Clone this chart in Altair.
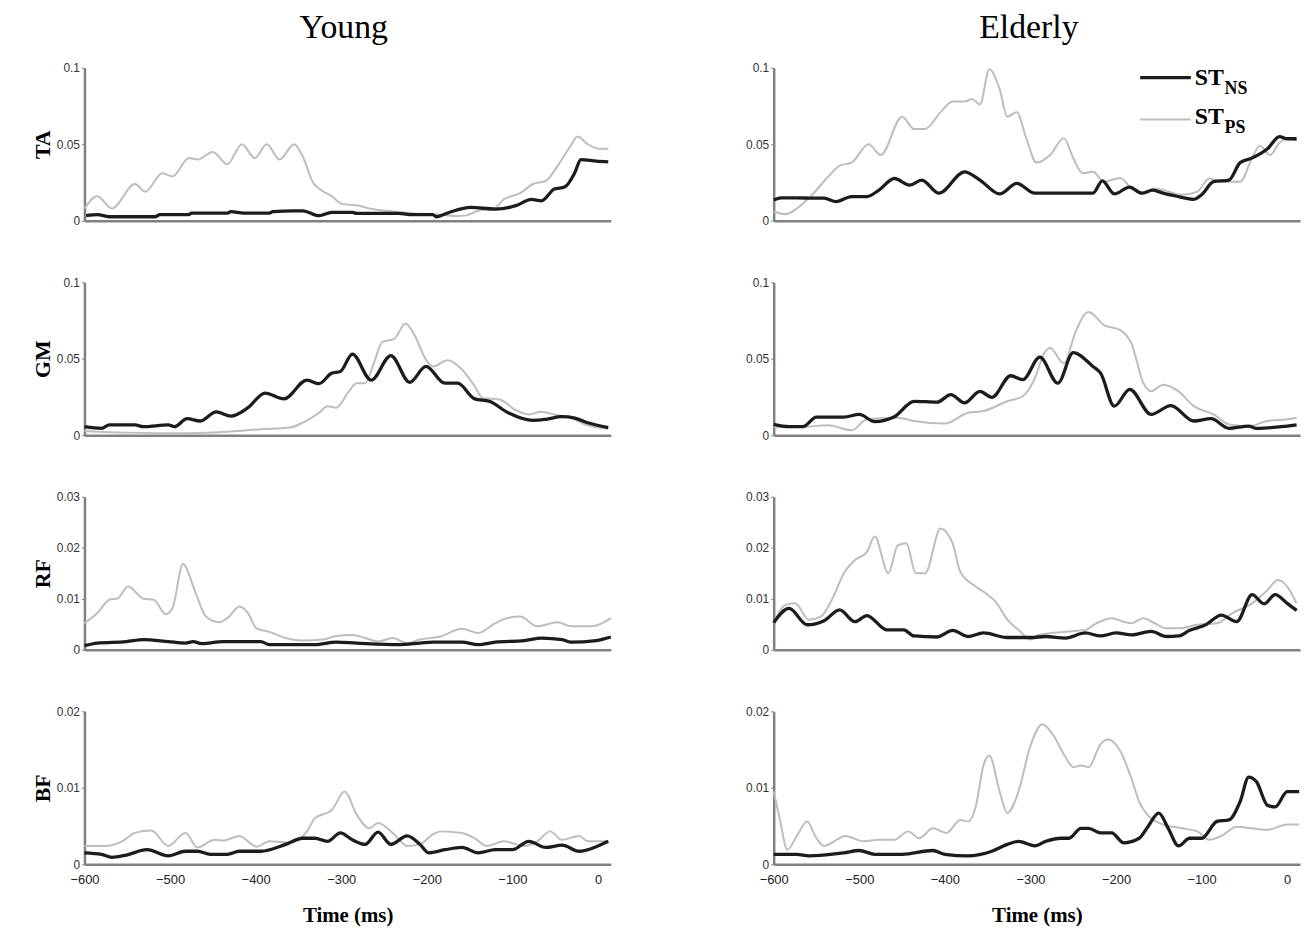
import altair as alt
import pandas as pd

# ---------------- data (time in ms, normalised EMG) ----------------
# Young TA
YTA_PS_T = [-600, -585, -568, -541, -529, -509, -497, -478, -468, -450, -433, -416, -401, -387, -372, -355, -345, -333, -326, -311, -299, -281, -267, -247, -228, -208, -188, -164, -154, -140, -120, -110, -91, -76, -61, -47, -32, -24, -12, 2, 12]
YTA_PS_V = [.008, .016, .008, .024, .019, .031, .029, .041, .040, .045, .037, .050, .041, .050, .040, .050, .042, .025, .021, .016, .011, .010, .008, .0065, .0055, .0045, .004, .003, .0035, .0065, .0085, .014, .018, .024, .026, .036, .049, .055, .050, .047, .047]
YTA_NS_T = [-598, -585, -571, -517, -512, -478, -475, -433, -429, -414, -384, -380, -355, -345, -326, -311, -287, -282, -233, -220, -193, -189, -174, -149, -120, -95, -78, -66, -51, -39, -27, -20, -2, 12]
YTA_NS_V = [.0033, .004, .0026, .0026, .004, .004, .005, .005, .006, .005, .005, .006, .0065, .0065, .0033, .0054, .0054, .0048, .0048, .004, .004, .0026, .0054, .0087, .0076, .010, .014, .013, .0207, .022, .0315, .040, .039, .0385]

# Elderly TA
ETA_PS_T = [-600, -586, -573, -555, -536, -523, -509, -489, -475, -450, -436, -423, -405, -391, -377, -368, -359, -348, -336, -327, -316, -305, -293, -277, -261, -250, -239, -227, -214, -195, -182, -168, -155, -141, -123, -105, -91, -77, -55, -41, -32, -20, -9, 0, 11]
ETA_PS_V = [.006, .0043, .008, .017, .029, .036, .038, .050, .043, .068, .060, .060, .071, .078, .078, .0795, .076, .099, .086, .068, .071, .054, .038, .043, .054, .041, .031, .032, .0255, .028, .021, .018, .021, .0195, .017, .019, .0276, .0255, .0255, .041, .049, .043, .051, .0536, .0525]
ETA_NS_T = [-600, -591, -573, -555, -541, -527, -509, -491, -477, -459, -441, -427, -407, -377, -359, -336, -316, -295, -227, -216, -202, -184, -170, -157, -145, -127, -109, -100, -86, -68, -55, -41, -23, -9, 0, 11]
ETA_NS_V = [.0136, .015, .015, .0147, .0147, .0125, .0158, .0158, .020, .0276, .0233, .0266, .018, .032, .0266, .0175, .0244, .018, .018, .026, .0175, .022, .018, .020, .018, .0158, .014, .017, .0255, .0266, .038, .041, .047, .055, .0536, .0536]

# Young GM
YGM_PS_T = [-600, -551, -478, -429, -394, -360, -345, -326, -316, -306, -291, -282, -272, -262, -252, -238, -225, -213, -203, -193, -176, -159, -144, -135, -115, -96, -81, -66, -51, -32, -12, 12]
YGM_PS_V = [.0028, .0017, .0013, .0024, .0039, .005, .0082, .0147, .019, .018, .0287, .034, .034, .047, .061, .063, .073, .064, .0514, .045, .049, .043, .032, .0244, .0233, .0164, .0136, .0153, .0136, .0114, .0065, .0043]
YGM_NS_T = [-600, -580, -571, -541, -531, -502, -495, -480, -465, -446, -429, -409, -389, -367, -340, -326, -311, -301, -287, -265, -242, -220, -201, -179, -164, -144, -127, -105, -76, -61, -42, -27, -12, 12]
YGM_NS_V = [.0056, .0045, .0067, .0067, .0056, .0067, .0056, .0108, .0093, .0153, .0125, .018, .0276, .0238, .036, .0337, .0406, .0417, .053, .036, .052, .0346, .045, .034, .034, .0238, .0222, .0147, .0097, .0104, .0121, .0112, .0082, .005]

# Elderly GM
EGM_PS_T = [-600, -568, -536, -509, -491, -455, -436, -400, -373, -355, -327, -309, -295, -284, -277, -261, -248, -236, -232, -214, -195, -182, -168, -159, -145, -127, -109, -86, -68, -45, -23, 0, 11]
EGM_PS_V = [.0054, .0054, .0065, .0032, .0104, .0114, .0093, .0076, .0147, .0158, .0222, .0255, .037, .0536, .057, .047, .0665, .0795, .0806, .072, .0687, .060, .0341, .0287, .033, .0287, .019, .0136, .0071, .006, .0093, .0104, .0114]
EGM_NS_T = [-600, -582, -566, -550, -518, -500, -482, -459, -436, -409, -393, -377, -359, -345, -323, -309, -289, -268, -250, -227, -218, -202, -184, -159, -136, -109, -89, -68, -45, -36, 0, 11]
EGM_NS_V = [.0071, .0056, .0056, .0119, .0119, .0136, .0089, .0121, .0222, .0216, .0266, .0212, .0287, .0248, .0389, .0363, .051, .034, .054, .045, .0406, .019, .030, .0136, .0194, .0093, .0108, .0045, .006, .0045, .006, .0067]

# Young RF
YRF_PS_T = [-600, -585, -571, -561, -549, -531, -519, -505, -497, -485, -470, -458, -443, -431, -419, -409, -399, -384, -365, -345, -321, -306, -287, -272, -257, -240, -223, -208, -184, -159, -140, -120, -110, -91, -71, -47, -32, -7, 15]
YRF_PS_V = [.0052, .0072, .0098, .0101, .0124, .010, .0098, .0070, .0082, .0168, .0111, .0065, .0054, .0065, .0085, .0072, .0042, .0035, .0023, .0018, .002, .0027, .0029, .0023, .0016, .0023, .0013, .002, .0026, .0041, .0033, .0052, .006, .0065, .0046, .0054, .0046, .0046, .0062]
YRF_NS_T = [-600, -585, -551, -531, -502, -482, -473, -463, -438, -394, -384, -331, -306, -282, -233, -208, -193, -159, -140, -120, -86, -66, -42, -32, -2, 15]
YRF_NS_V = [.0008, .0013, .0016, .002, .0016, .0013, .0016, .0012, .0016, .0016, .001, .001, .0015, .0013, .001, .0013, .0015, .0015, .001, .0015, .0018, .0023, .002, .0015, .0018, .0025]

# Elderly RF
ERF_PS_T = [-600, -586, -575, -559, -545, -532, -518, -505, -491, -482, -466, -455, -445, -434, -423, -405, -391, -382, -364, -350, -341, -327, -314, -300, -291, -255, -236, -223, -205, -191, -182, -168, -155, -141, -127, -105, -82, -64, -41, -23, -11, 0, 11]
ERF_PS_V = [.0052, .0088, .0091, .0059, .0065, .0098, .015, .0176, .0192, .0222, .015, .0205, .0209, .015, .015, .0238, .0209, .0153, .0124, .0108, .0095, .0059, .0039, .002, .0029, .0036, .0039, .0052, .0062, .0055, .0052, .0062, .0052, .0042, .0042, .0049, .0052, .0072, .0091, .0117, .0137, .0124, .0091]
ERF_NS_T = [-600, -582, -561, -541, -523, -505, -491, -468, -448, -436, -409, -391, -373, -355, -327, -300, -282, -259, -236, -218, -200, -182, -159, -141, -127, -114, -95, -77, -59, -41, -27, -14, 0, 11]
ERF_NS_V = [.0053, .0081, .0049, .0057, .0078, .0055, .0067, .0039, .0039, .0027, .0025, .0038, .0026, .0033, .0024, .0024, .0026, .0023, .0033, .0027, .0033, .0029, .0036, .0026, .0027, .0038, .0049, .0068, .0055, .0108, .009, .0108, .0091, .0077]

# Young BF
YBF_PS_T = [-600, -576, -556, -541, -522, -502, -482, -468, -448, -438, -419, -399, -384, -360, -340, -331, -311, -296, -282, -267, -257, -238, -223, -208, -193, -184, -159, -144, -130, -110, -86, -71, -56, -42, -22, -12, 12]
YBF_PS_V = [.0024, .0024, .003, .0041, .0044, .0024, .0041, .0022, .0032, .0031, .0037, .0023, .003, .0028, .0043, .006, .0071, .0095, .0065, .0047, .0054, .0039, .0024, .0026, .0039, .0043, .0041, .0034, .0024, .003, .0024, .003, .0043, .0032, .0037, .003, .003]
YBF_NS_T = [-600, -580, -568, -551, -527, -502, -482, -468, -453, -433, -419, -394, -365, -345, -331, -316, -301, -287, -272, -257, -242, -223, -208, -198, -179, -159, -140, -120, -100, -81, -61, -42, -22, -2, 12]
YBF_NS_V = [.0015, .0013, .0009, .0012, .0019, .0011, .0017, .0017, .0013, .0013, .0017, .0017, .0026, .0034, .0034, .003, .0041, .0032, .0026, .0042, .0026, .0037, .0026, .0015, .0019, .0022, .0015, .0019, .0019, .003, .0022, .0025, .0017, .0023, .003]

# Elderly BF
EBF_PS_T = [-600, -593, -584, -573, -561, -550, -541, -516, -495, -477, -459, -443, -430, -414, -398, -382, -373, -364, -355, -348, -336, -327, -314, -300, -286, -273, -259, -250, -241, -232, -218, -209, -195, -182, -173, -159, -145, -123, -105, -91, -77, -59, -41, -23, 0, 14]
EBF_PS_V = [.0095, .006, .0019, .0037, .0056, .0034, .0024, .0037, .003, .0032, .0032, .0043, .0034, .0047, .0041, .0058, .0056, .0075, .0129, .0142, .0095, .0067, .0095, .0155, .0183, .0168, .014, .0127, .0129, .0127, .0157, .0163, .0148, .0112, .0082, .006, .0052, .0047, .0043, .0032, .0037, .0049, .0047, .0045, .0052, .0052]
EBF_NS_T = [-600, -573, -559, -518, -500, -482, -450, -414, -400, -373, -345, -327, -314, -295, -282, -264, -255, -241, -232, -218, -205, -191, -173, -164, -150, -139, -127, -114, -100, -82, -68, -55, -45, -36, -23, -14, 0, 14]
EBF_NS_V = [.0013, .0013, .0011, .0015, .0018, .0013, .0013, .0018, .0013, .0011, .0017, .0026, .003, .0024, .003, .0034, .0034, .0047, .0047, .0041, .0041, .0028, .0034, .0047, .0067, .0047, .0024, .0034, .0034, .0056, .0058, .0082, .0114, .0108, .0077, .0075, .0095, .0095]

GROUPS = ["Young", "Elderly"]
MUSCLES = ["TA", "GM", "RF", "BF"]
Y_MAX = [0.1, 0.1, 0.03, 0.02]
Y_TICKS = [[0, 0.05, 0.1], [0, 0.05, 0.1], [0, 0.01, 0.02, 0.03], [0, 0.01, 0.02]]
X_TICKS = [-600, -500, -400, -300, -200, -100, 0]

SERIES = {
    ("Young", "TA"): (YTA_PS_T, YTA_PS_V, YTA_NS_T, YTA_NS_V),
    ("Elderly", "TA"): (ETA_PS_T, ETA_PS_V, ETA_NS_T, ETA_NS_V),
    ("Young", "GM"): (YGM_PS_T, YGM_PS_V, YGM_NS_T, YGM_NS_V),
    ("Elderly", "GM"): (EGM_PS_T, EGM_PS_V, EGM_NS_T, EGM_NS_V),
    ("Young", "RF"): (YRF_PS_T, YRF_PS_V, YRF_NS_T, YRF_NS_V),
    ("Elderly", "RF"): (ERF_PS_T, ERF_PS_V, ERF_NS_T, ERF_NS_V),
    ("Young", "BF"): (YBF_PS_T, YBF_PS_V, YBF_NS_T, YBF_NS_V),
    ("Elderly", "BF"): (EBF_PS_T, EBF_PS_V, EBF_NS_T, EBF_NS_V),
}

# ---------------- styling ----------------
SERIF = "Liberation Serif"
SANS = "Liberation Sans"
AXIS_GRAY = "#808080"
NS_COLOR = "#1c1c1c"
PS_COLOR = "#bdbdbd"
W_LEFT = 530
W_RIGHT = 530
H = 154


def panel(group, muscle, row):
    ps_t, ps_v, ns_t, ns_v = SERIES[(group, muscle)]
    bottom = row == 3
    left = group == "Young"

    if bottom:
        xaxis = alt.Axis(values=X_TICKS, ticks=False, labelFont=SANS, labelFontSize=13,
                         labelColor="#222", labelPadding=9, labelFlush=False,
                         title="Time (ms)", titleFont=SERIF, titleFontSize=21,
                         titleFontWeight="bold", titleColor="#000", titlePadding=19)
    else:
        xaxis = alt.Axis(labels=False, ticks=False, title=None)

    if left:
        yaxis = alt.Axis(values=Y_TICKS[row], format="~g", title=muscle, titleFont=SERIF,
                         titleFontSize=22, titleFontWeight="bold", titleColor="#000",
                         titlePadding=0, labelFont=SANS, labelFontSize=12, labelColor="#333",
                         tickSize=3, tickColor=AXIS_GRAY, labelPadding=2, labelFlush=False,
                         minExtent=30, maxExtent=30)
    else:
        yaxis = alt.Axis(values=Y_TICKS[row], format="~g", title=None, labelFont=SANS,
                         labelFontSize=12, labelColor="#333", tickSize=3, labelFlush=False,
                         tickColor=AXIS_GRAY, labelPadding=2, minExtent=30, maxExtent=30)

    x = alt.X("t:Q", scale=alt.Scale(domain=[-600, 15], nice=False, zero=False), axis=xaxis)
    y = alt.Y("v:Q", scale=alt.Scale(domain=[0, Y_MAX[row]], nice=False), axis=yaxis)

    ps = alt.Chart(pd.DataFrame({"t": ps_t, "v": ps_v})).mark_line(
        color=PS_COLOR, strokeWidth=2, interpolate="monotone").encode(x=x, y=y)
    ns = alt.Chart(pd.DataFrame({"t": ns_t, "v": ns_v})).mark_line(
        color=NS_COLOR, strokeWidth=3.3, interpolate="monotone").encode(x=x, y=y)
    layers = [ps, ns]
    one = pd.DataFrame({"k": [0]})

    if row == 0:
        # column heading ("Young" / "Elderly") above the top panel
        layers.append(alt.Chart(one).mark_text(
            align="center", baseline="middle", font=SERIF, fontSize=34, color="#000").encode(
            x=alt.value(261 if left else 257), y=alt.value(-40), text=alt.value(group)))

    if group == "Elderly" and row == 0:
        layers += [
            alt.Chart(one).mark_rule(color=NS_COLOR, strokeWidth=3.3).encode(
                x=alt.value(369), x2=alt.value(420), y=alt.value(10)),
            alt.Chart(one).mark_rule(color=PS_COLOR, strokeWidth=2).encode(
                x=alt.value(369), x2=alt.value(420), y=alt.value(52)),
            alt.Chart(one).mark_text(align="left", baseline="middle", font=SERIF,
                                     fontWeight="bold", fontSize=24, color="#000").encode(
                x=alt.value(424), y=alt.value(10), text=alt.value("ST")),
            alt.Chart(one).mark_text(align="left", baseline="middle", font=SERIF,
                                     fontWeight="bold", fontSize=18, color="#000").encode(
                x=alt.value(454), y=alt.value(21), text=alt.value("NS")),
            alt.Chart(one).mark_text(align="left", baseline="middle", font=SERIF,
                                     fontWeight="bold", fontSize=24, color="#000").encode(
                x=alt.value(424), y=alt.value(50), text=alt.value("ST")),
            alt.Chart(one).mark_text(align="left", baseline="middle", font=SERIF,
                                     fontWeight="bold", fontSize=18, color="#000").encode(
                x=alt.value(454), y=alt.value(61), text=alt.value("PS")),
        ]
    return alt.layer(*layers).properties(width=W_LEFT if left else W_RIGHT, height=H)


panels = []
for r, m in enumerate(MUSCLES):
    for g in GROUPS:
        panels.append(panel(g, m, r))

chart = alt.concat(*panels, columns=2, spacing={"row": 62, "column": 164},
                   bounds="flush").properties(
    padding={"left": 24, "top": 0, "right": 0, "bottom": 0}
).configure_view(strokeWidth=0).configure_axis(
    grid=False, domainColor=AXIS_GRAY, domainWidth=2.5
)

chart.save("out.html", embed_options={"renderer": "svg", "actions": False})
